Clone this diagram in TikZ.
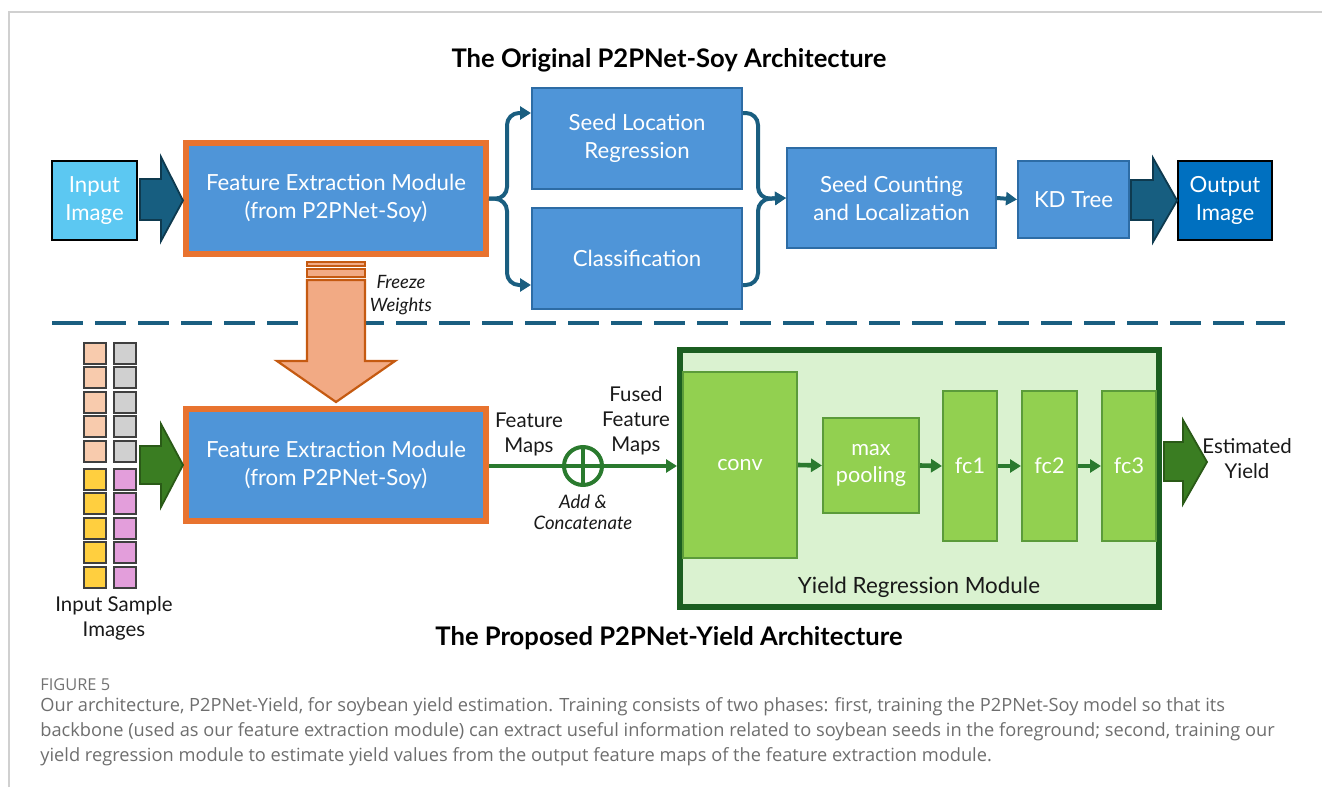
\documentclass[tikz,border=0pt]{standalone}
\usepackage{fontspec}
\setmainfont{Lato}
\newfontfamily\capfont{Open Sans}
\usetikzlibrary{arrows.meta,calc}

\definecolor{framegray}{HTML}{D0D0D0}
\definecolor{boxblue}{HTML}{4F95D8}
\definecolor{boxblueedge}{HTML}{2D6CA5}
\definecolor{inputcyan}{HTML}{5CC8F2}
\definecolor{outputblue}{HTML}{0070C0}
\definecolor{linkteal}{HTML}{1A5E80}
\definecolor{bigteal}{HTML}{175E80}
\definecolor{bigtealedge}{HTML}{0E3A4F}
\definecolor{femorange}{HTML}{E8732F}
\definecolor{freezefill}{HTML}{F2AA84}
\definecolor{freezeedge}{HTML}{C55A11}
\definecolor{sqpeach}{HTML}{F8CBAD}
\definecolor{sqgray}{HTML}{D0D0D0}
\definecolor{sqyellow}{HTML}{FFCF3F}
\definecolor{sqpink}{HTML}{E39EDB}
\definecolor{sqedge}{HTML}{3F3F3F}
\definecolor{gfill}{HTML}{92D050}
\definecolor{gedge}{HTML}{5B9B3A}
\definecolor{yrmfill}{HTML}{DAF2D0}
\definecolor{yrmedge}{HTML}{1B5E20}
\definecolor{linkgreen}{HTML}{2A7A2E}
\definecolor{biggreen}{HTML}{3A7D22}
\definecolor{biggreenedge}{HTML}{2A5A17}
\definecolor{capgray}{HTML}{6E6E6E}

\tikzset{
  % box spanning x1:y1:x2:y2 (drawing units)
  span/.style args={#1:#2:#3:#4}{at={({(#1+#3)/2},{(#2+#4)/2})},
    minimum width={(#3-#1)*0.5pt}, minimum height={(#4-#2)*0.5pt}},
  bluebox/.style={draw=boxblueedge, line width=1pt, fill=boxblue, text=white,
    align=center, inner sep=0pt, font=\fontsize{11.1}{14}\selectfont},
  fembox/.style={bluebox, draw=femorange, line width=3pt},
  termbox/.style={bluebox, draw=black, line width=0.9pt},
  gbox/.style={draw=gedge, line width=1pt, fill=gfill, text=white,
    align=center, inner sep=0pt, font=\fontsize{10.8}{13.5}\selectfont},
  yrmbox/.style={draw=yrmedge, line width=3pt, fill=yrmfill, inner sep=0pt},
  link/.style={draw=linkteal, line width=2pt, rounded corners=6pt},
  tealtip/.style={-{Triangle[length=5.5pt,width=6.5pt]}},
  glink/.style={draw=linkgreen, line width=2pt},
  gtip/.style={-{Triangle[length=5.5pt,width=6.5pt]}},
  label/.style={align=center, inner sep=0pt, text=black!90,
    font=\fontsize{10.2}{12.5}\selectfont},
  note/.style={align=center, inner sep=0pt, text=black!90,
    font=\itshape\fontsize{9.2}{11.5}\selectfont},
  heading/.style={inner sep=0pt, text=black,
    font=\bfseries\fontsize{12.8}{15}\selectfont},
  captext/.style={anchor=west, inner sep=0pt, text=capgray,
    font=\capfont\fontsize{9.12}{11}\selectfont},
  bigarrow/.style={line width=0.9pt, line join=miter},
  square/.style={draw=sqedge, line width=0.7pt},
}

\begin{document}
\begin{tikzpicture}[x=0.5pt,y=-0.5pt]
\useasboundingbox (0,0) rectangle (1322,787);

% page frame
\draw[framegray, line width=0.6pt] (9,787) -- (9,12) -- (1322,12);

% ---------- upper half: P2PNet-Soy ----------
\node[heading] (title1) at (669,60) {The Original P2PNet-Soy Architecture};

\node[termbox, fill=inputcyan, span=52:161:137:240] (inimg) {Input\\Image};
\node[fembox, span=186:143:486:254] (fem1) {Feature Extraction Module\\(from P2PNet-Soy)};
\node[bluebox, span=532:88:742:189] (slr) {Seed Location\\Regression};
\node[bluebox, span=532:208:742:309] (cls) {Classification};
\node[bluebox, span=787:148:996:248] (scl) {Seed Counting\\and Localization};
\node[bluebox, span=1018:161:1129:238] (kdt) {KD Tree};
\node[termbox, fill=outputblue, span=1178:161:1272:240] (outimg) {Output\\Image};

% block arrows
\draw[bigarrow, fill=bigteal, draw=bigtealedge]
  (140,179) -- (161,179) -- (161,157) -- (inimg.east -| fem1.west) -- (161,241)
  -- (161,220) -- (140,220) -- cycle;
\draw[bigarrow, fill=bigteal, draw=bigtealedge]
  (1131,180) -- (1153,180) -- (1153,158) -- (outimg.west) -- (1153,242)
  -- (1153,220) -- (1131,220) -- cycle;

% branching connectors
\coordinate (lsplit) at (507,199);
\coordinate (rjoin) at (758,199);
\coordinate (ytop) at (0,113);
\coordinate (ybot) at (0,285);
\draw[link, tealtip] (fem1.east) -- (lsplit) |- (slr.west |- ytop);
\draw[link, tealtip] (fem1.east) -- (lsplit) |- (cls.west |- ybot);
\draw[link, tealtip] (slr.east |- ytop) -| (rjoin) -- (scl.west);
\draw[link, tealtip] (cls.east |- ybot) -| (rjoin) -- (scl.west);
\draw[link, tealtip] (scl.east) -- (kdt.west);

% separator between the two architectures
\draw[linkteal, line width=2pt, dash pattern=on 15.5pt off 6pt] (52,323) -- (1285,323);

% freeze-weights arrow
\draw[freezeedge, fill=freezefill, line width=0.9pt] (307,262) rectangle (365,266);
\draw[freezeedge, fill=freezefill, line width=0.9pt] (307,269) rectangle (365,277);
\draw[freezeedge, fill=freezefill, line width=1.1pt, line join=miter]
  (307,280) -- (365,280) -- (365,361) -- (395,361) -- (336,402) -- (277,361)
  -- (307,361) -- cycle;
\node[note] (freeze) at (401,295) {Freeze\\Weights};

% ---------- lower half: P2PNet-Yield ----------
% input sample images
\foreach \t in {343,367,392,416,441}{
  \draw[square, fill=sqpeach] (84,\t) rectangle (106,\t+21);
  \draw[square, fill=sqgray] (114,\t) rectangle (136,\t+21);
}
\foreach \t in {469,493,518,542,567}{
  \draw[square, fill=sqyellow] (84,\t) rectangle (106,\t+21);
  \draw[square, fill=sqpink] (114,\t) rectangle (136,\t+21);
}
\node[label] (samples) at (114,618) {Input Sample\\Images};

\node[fembox, span=186:409:486:521] (fem2) {Feature Extraction Module\\(from P2PNet-Soy)};

\draw[bigarrow, fill=biggreen, draw=biggreenedge]
  (140,446) -- (161,446) -- (161,424) -- (183,465) -- (161,507)
  -- (161,484) -- (140,484) -- cycle;

% yield regression module
\node[yrmbox, span=680:350:1159:607] (yrm) {};
\node[gbox, span=683:372:797:558] (conv) {conv};
\node[gbox, span=823:418:919:513] (pool) {max\\pooling};
\node[gbox, span=943:391:997:541] (fc1) {fc1};
\node[gbox, span=1022:391:1077:541] (fc2) {fc2};
\node[gbox, span=1102:391:1156:541] (fc3) {fc3};
\node[label, font=\fontsize{11.2}{13}\selectfont] (yrmlabel) at (919,587) {Yield Regression Module};

\draw[glink, gtip, line width=2.3pt] (conv.east) -- (pool.west);
\draw[glink, gtip, line width=2.3pt] (pool.east) -- (fc1.west);
\draw[glink, gtip, line width=2.3pt] (fc1.east) -- (fc2.west);
\draw[glink, gtip, line width=2.3pt] (fc2.east) -- (fc3.west);

% feature fusion
\node[circle, draw=linkgreen, line width=2pt, minimum size=19pt, inner sep=0pt] (fuse) at (583,466) {};
\draw[glink] (fuse.north) -- (fuse.south);
\draw[glink] (fuse.west) -- (fuse.east);
\draw[glink] (fem2.east |- fuse) -- (fuse.west);
\draw[glink, gtip] (fuse.east) -- (fuse.east -| yrm.west);
\node[label] (fmaps) at (529,434) {Feature\\Maps};
\node[label] (fused) at (636,421) {Fused\\Feature\\Maps};
\node[note, font=\itshape\fontsize{9.3}{10.5}\selectfont] (addcat) at (583,512) {Add \&\\Concatenate};

% output
\draw[bigarrow, fill=biggreen, draw=biggreenedge]
  (1164,442) -- (1183,442) -- (1183,420) -- (1207,462) -- (1183,504)
  -- (1183,481) -- (1164,481) -- cycle;
\node[label] (estyield) at (1247,459) {Estimated\\Yield};

\node[heading] (title2) at (669,638) {The Proposed P2PNet-Yield Architecture};

% ---------- caption ----------
\node[captext, font=\capfont\fontsize{8.2}{9}\selectfont, text=black!55] (figno) at (40,685) {FIGURE 5};
\node[captext] (cap1) at (40,707) {Our architecture, P2PNet-Yield, for soybean yield estimation. Training consists of two phases: first, training the P2PNet-Soy model so that its};
\node[captext] (cap2) at (40,732) {backbone (used as our feature extraction module) can extract useful information related to soybean seeds in the foreground; second, training our};
\node[captext] (cap3) at (40,757) {yield regression module to estimate yield values from the output feature maps of the feature extraction module.};
\end{tikzpicture}
\end{document}
